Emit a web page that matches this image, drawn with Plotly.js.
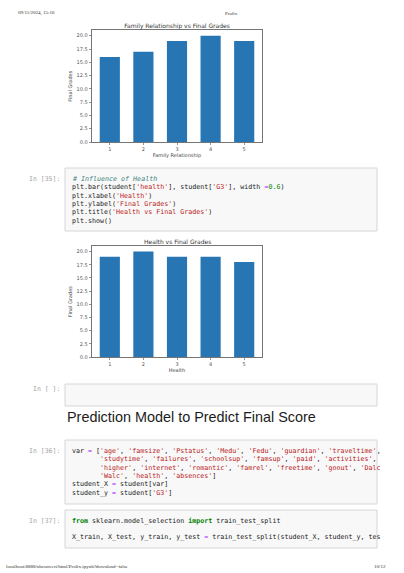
<!DOCTYPE html>
<html>
<head>
<meta charset="utf-8">
<script src="https://cdn.plot.ly/plotly-3.0.1.min.js"></script>
<style>
html,body{margin:0;padding:0;background:#fff;overflow:hidden;}
#plot{width:404px;height:573px;}
</style>
</head>
<body>
<div id="plot"></div>
<script>
// ---------- data ----------
const famrelCategories = [1, 2, 3, 4, 5];
const famrelMaxG3 = [16, 17, 19, 20, 19];
const healthCategories = [1, 2, 3, 4, 5];
const healthMaxG3 = [19, 20, 19, 19, 18];
const yTickVals = [0, 2.5, 5, 7.5, 10, 12.5, 15, 17.5, 20];
const yTickText = ['0.0', '2.5', '5.0', '7.5', '10.0', '12.5', '15.0', '17.5', '20.0'];
const xTickVals = [1, 2, 3, 4, 5];
const xTickText = ['1', '2', '3', '4', '5'];

const chart1Title = 'Family Relationship vs Final Grades';
const chart1XLabel = 'Family Relationship';
const chart2Title = 'Health vs Final Grades';
const chart2XLabel = 'Health';
const yLabel = 'Final Grades';

const headerLeft = '09/11/2024, 15:16';
const headerCenter = 'Prolix';
const footerLeft = 'localhost:8888/nbconvert/html/Prolix.ipynb?download=false';
const footerRight = '10/12';
const heading = 'Prediction Model to Predict Final Score';

const cell35Prompt = 'In [35]:';
const cell35Code = [
  "# Influence of Health",
  "plt.bar(student['health'], student['G3'], width =0.6)",
  "plt.xlabel('Health')",
  "plt.ylabel('Final Grades')",
  "plt.title('Health vs Final Grades')",
  "plt.show()"
];
const emptyPrompt = 'In [ ]:';
const cell36Prompt = 'In [36]:';
const cell36Code = [
  "var = ['age', 'famsize', 'Pstatus', 'Medu', 'Fedu', 'guardian', 'traveltime',",
  "       'studytime', 'failures', 'schoolsup', 'famsup', 'paid', 'activities',",
  "       'higher', 'internet', 'romantic', 'famrel', 'freetime', 'goout', 'Dalc",
  "       'Walc', 'health', 'absences']",
  "student_X = student[var]",
  "student_y = student['G3']"
];
const cell37Prompt = 'In [37]:';
const cell37Code = [
  "from sklearn.model_selection import train_test_split",
  "",
  "X_train, X_test, y_train, y_test = train_test_split(student_X, student_y, tes"
];

// ---------- helpers ----------
const W = 404, H = 573;
const px = x => x / W;
const py = y => 1 - y / H;
const nb = s => s.replace(/ /g, '\u00A0');

function highlight(line) {
  if (/^\s*#/.test(line)) {
    return '<i><span style="color:#408080">' + nb(line) + '</span></i>';
  }
  const re = /('[^']*'?)|(\b(?:from|import)\b)|(\b\d+(?:\.\d+)?\b)|(=)/g;
  let out = '', last = 0, m;
  while ((m = re.exec(line)) !== null) {
    out += nb(line.slice(last, m.index));
    if (m[1]) out += '<span style="color:#BA2121">' + nb(m[1]) + '</span>';
    else if (m[2]) out += '<b><span style="color:#008000">' + m[2] + '</span></b>';
    else if (m[3]) out += '<span style="color:#008800">' + m[3] + '</span>';
    else if (m[4]) out += '<span style="color:#AA22FF">' + m[4] + '</span>';
    last = m.index + m[0].length;
  }
  out += nb(line.slice(last));
  return out;
}

const CODE_FONT = {family: 'DejaVu Sans Mono, Liberation Mono, monospace', size: 6.67, color: '#1a1a1a'};
const PROMPT_FONT = {family: 'DejaVu Sans Mono, Liberation Mono, monospace', size: 6.5, color: '#a3a3a3'};
const LINE_H = 8.3;
const CODE_X = 70.7;

const annotations = [];
const shapes = [];

function text(t, x, y, font, xanchor) {
  annotations.push({
    text: t, xref: 'paper', yref: 'paper', x: px(x), y: py(y),
    xanchor: xanchor || 'left', yanchor: 'middle', showarrow: false,
    font: font, align: xanchor || 'left', borderpad: 0
  });
}

function cell(prompt, code, top, bottom, firstLineY) {
  shapes.push({type: 'rect', xref: 'paper', yref: 'paper',
    x0: px(65), x1: px(377), y0: py(bottom), y1: py(top),
    fillcolor: '#f8f8f8', line: {color: '#d6d6d6', width: 1}, layer: 'below'});
  text(nb(prompt), 61, firstLineY, PROMPT_FONT, 'right');
  code.forEach((ln, i) => {
    if (ln.length) text(highlight(ln), CODE_X, firstLineY + i * LINE_H, CODE_FONT, 'left');
  });
}

// page header / footer
const SMALL_SERIF = {family: 'Liberation Serif, DejaVu Serif, serif', size: 5, color: '#333'};
text(headerLeft, 17, 13, SMALL_SERIF, 'left');
text(headerCenter, 232, 13, SMALL_SERIF, 'center');
text(footerLeft, 5, 566.5, SMALL_SERIF, 'left');
text(footerRight, 387, 566.5, SMALL_SERIF, 'right');

// chart 2 title (chart 1 uses layout.title)
const TITLE_FONT = {family: 'DejaVu Sans', size: 6, color: '#333'};
text(chart2Title, 177, 241, TITLE_FONT, 'center');

// cells
cell(cell35Prompt, cell35Code, 168, 231, 179);
cell(emptyPrompt, [], 384, 406, 388.5);
text(heading, 66, 417, {family: 'Liberation Sans, Arial, sans-serif', size: 14.4, color: '#1c1c1c'}, 'left');
cell(cell36Prompt, cell36Code, 440, 504, 451);
cell(cell37Prompt, cell37Code, 510, 548, 520.7);

// ---------- axes ----------
const TICK_FONT = {family: 'DejaVu Sans', size: 5, color: '#555'};
const LABEL_FONT = {family: 'DejaVu Sans', size: 5, color: '#444'};
function xAxis(domain, label, anchor) {
  return {
    domain: domain, anchor: anchor, range: [0.47, 5.53],
    tickmode: 'array', tickvals: xTickVals, ticktext: xTickText,
    ticks: 'outside', ticklen: 2.5, tickwidth: 0.8, tickcolor: '#777',
    showline: true, linecolor: '#666', linewidth: 0.9, mirror: true,
    showgrid: false, zeroline: false, tickfont: TICK_FONT, fixedrange: true,
    automargin: false,
    title: {text: label, font: LABEL_FONT, standoff: 2}
  };
}
function yAxis(domain, anchor) {
  return {
    domain: domain, anchor: anchor, range: [0, 21],
    tickmode: 'array', tickvals: yTickVals, ticktext: yTickText,
    ticks: 'outside', ticklen: 2.5, tickwidth: 0.8, tickcolor: '#777',
    showline: true, linecolor: '#666', linewidth: 0.9, mirror: true,
    showgrid: false, zeroline: false, tickfont: TICK_FONT, fixedrange: true,
    automargin: false,
    title: {text: yLabel, font: LABEL_FONT, standoff: 3}
  };
}

const traces = [
  {type: 'bar', x: famrelCategories, y: famrelMaxG3, width: 0.6,
   marker: {color: '#2776b3', line: {width: 0}}, xaxis: 'x', yaxis: 'y',
   name: chart1Title, hoverinfo: 'x+y'},
  {type: 'bar', x: healthCategories, y: healthMaxG3, width: 0.6,
   marker: {color: '#2776b3', line: {width: 0}}, xaxis: 'x2', yaxis: 'y2',
   name: chart2Title, hoverinfo: 'x+y'}
];

const layout = {
  width: W, height: H, autosize: false,
  margin: {l: 0, r: 0, t: 0, b: 0, pad: 0},
  paper_bgcolor: '#ffffff', plot_bgcolor: '#ffffff',
  showlegend: false,
  title: {text: chart1Title, font: TITLE_FONT, x: px(177), xanchor: 'center',
          xref: 'paper', y: py(25.5), yanchor: 'middle', yref: 'paper'},
  xaxis: xAxis([px(92), px(262)], chart1XLabel, 'y'),
  yaxis: yAxis([py(142), py(30.4)], 'x'),
  xaxis2: xAxis([px(92), px(262)], chart2XLabel, 'y2'),
  yaxis2: yAxis([py(357), py(246.3)], 'x2'),
  annotations: annotations,
  shapes: shapes
};

Plotly.newPlot('plot', traces, layout, {staticPlot: true, displayModeBar: false});
</script>
</body>
</html>
